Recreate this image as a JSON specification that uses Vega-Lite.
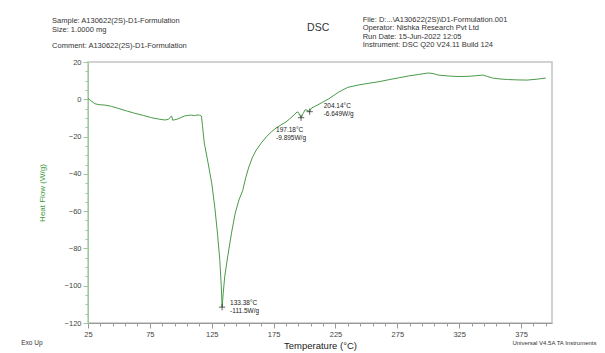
{
  "$schema": "https://vega.github.io/schema/vega-lite/v6.json",
  "autosize": {"type": "none"},
  "padding": {"left": 88, "top": 62, "right": 53, "bottom": 30},
  "width": 464,
  "height": 261,
  "background": "white",
  "config": {
    "font": "Liberation Sans",
    "view": {"stroke": "#c4c4c4", "strokeWidth": 1.5}
  },
  "layer": [
    {
      "data": {"values": [
        {"T": 25, "v": 0.5}, {"T": 27, "v": -0.6}, {"T": 30.6, "v": -2.4}, {"T": 34, "v": -2.9},
        {"T": 38.7, "v": -3.1}, {"T": 44, "v": -3.8}, {"T": 49, "v": -4.8}, {"T": 56, "v": -6.2},
        {"T": 62.8, "v": -7.5}, {"T": 70, "v": -8.7}, {"T": 76.5, "v": -9.9}, {"T": 82, "v": -10.6},
        {"T": 87, "v": -11.1}, {"T": 90, "v": -10.8}, {"T": 91.5, "v": -9.6}, {"T": 92.6, "v": -9.0},
        {"T": 93.4, "v": -11.2}, {"T": 95, "v": -11.0}, {"T": 97.4, "v": -10.6}, {"T": 100, "v": -9.8},
        {"T": 103, "v": -9.0}, {"T": 106, "v": -8.6}, {"T": 108.7, "v": -8.5}, {"T": 111, "v": -8.8},
        {"T": 113, "v": -8.4}, {"T": 115, "v": -8.5}, {"T": 116.7, "v": -9.0}, {"T": 117.5, "v": -14},
        {"T": 119, "v": -23.5}, {"T": 122, "v": -34}, {"T": 125, "v": -45}, {"T": 127.5, "v": -58},
        {"T": 129.6, "v": -71.7}, {"T": 131.5, "v": -86}, {"T": 132.7, "v": -100}, {"T": 133.38, "v": -111.5},
        {"T": 134.3, "v": -104}, {"T": 135.5, "v": -95}, {"T": 138, "v": -84}, {"T": 141, "v": -71.7},
        {"T": 144, "v": -61}, {"T": 147, "v": -54}, {"T": 150, "v": -49}, {"T": 152.5, "v": -42},
        {"T": 155, "v": -36.3}, {"T": 158, "v": -31}, {"T": 161, "v": -27.2}, {"T": 165, "v": -23.5},
        {"T": 169, "v": -20.2}, {"T": 173, "v": -17.6}, {"T": 177, "v": -15.4}, {"T": 181, "v": -13.7},
        {"T": 185, "v": -12.2}, {"T": 188, "v": -10.5}, {"T": 191.5, "v": -8.4}, {"T": 194, "v": -6.8},
        {"T": 195, "v": -7.0}, {"T": 197.18, "v": -9.895}, {"T": 199, "v": -7.5}, {"T": 200.5, "v": -5.6},
        {"T": 202, "v": -5.8}, {"T": 204.14, "v": -6.649}, {"T": 205.5, "v": -4.8}, {"T": 209, "v": -3.6},
        {"T": 214, "v": -1.8}, {"T": 219.7, "v": 0.3}, {"T": 227.7, "v": 3.9}, {"T": 235, "v": 6.4},
        {"T": 243.8, "v": 7.7}, {"T": 252, "v": 8.6}, {"T": 260, "v": 9.4}, {"T": 268, "v": 10.5},
        {"T": 276, "v": 11.5}, {"T": 284, "v": 12.5}, {"T": 292, "v": 13.3}, {"T": 300, "v": 14.1},
        {"T": 304, "v": 13.8}, {"T": 308, "v": 13.0}, {"T": 316, "v": 12.5}, {"T": 324, "v": 12.2},
        {"T": 332, "v": 12.3}, {"T": 338, "v": 12.6}, {"T": 344, "v": 13.0}, {"T": 348, "v": 12.2},
        {"T": 352, "v": 11.4}, {"T": 358, "v": 10.9}, {"T": 364, "v": 10.6}, {"T": 372, "v": 10.4},
        {"T": 380, "v": 10.3}, {"T": 388, "v": 10.8}, {"T": 395, "v": 11.4}
      ]},
      "mark": {"type": "line", "color": "#4a9a4a", "strokeWidth": 1},
      "encoding": {
        "x": {
          "field": "T", "type": "quantitative",
          "scale": {"domain": [25, 400], "nice": false, "zero": false},
          "axis": {
            "title": "Temperature (°C)",
            "titleFontSize": 9.5, "titleFontWeight": "normal", "titleColor": "#222", "titlePadding": 3,
            "values": [25, 35, 45, 55, 65, 75, 85, 95, 105, 115, 125, 135, 145, 155, 165, 175, 185, 195, 205, 215, 225, 235, 245, 255, 265, 275, 285, 295, 305, 315, 325, 335, 345, 355, 365, 375, 385, 395],
            "tickCount": 200,
            "format": "d",
            "labelExpr": "(datum.value - 25) % 50 === 0 ? datum.label : ''",
            "labelOverlap": false,
            "labelFontSize": 7.5, "labelColor": "#444", "labelPadding": 2,
            "tickSize": {"condition": {"test": "(datum.value - 25) % 50 === 0", "value": 5}, "value": 3},
            "tickColor": "#999", "domainColor": "#999", "grid": false, "labelFlush": false
          }
        },
        "y": {
          "field": "v", "type": "quantitative",
          "scale": {"domain": [-120, 20], "nice": false, "zero": false},
          "axis": {
            "title": "Heat Flow (W/g)",
            "titleFontSize": 8, "titleFontWeight": "normal", "titleColor": "#3a9a3a", "titlePadding": 18,
            "values": [-120, -115, -110, -105, -100, -95, -90, -85, -80, -75, -70, -65, -60, -55, -50, -45, -40, -35, -30, -25, -20, -15, -10, -5, 0, 5, 10, 15, 20],
            "tickCount": 200,
            "format": "d",
            "labelExpr": "datum.value % 20 === 0 ? datum.label : ''",
            "labelOverlap": false,
            "labelFontSize": 7.5, "labelColor": "#444", "labelPadding": 2,
            "tickSize": {"condition": {"test": "datum.value % 20 === 0", "value": 5}, "value": 3},
            "tickColor": "#9c9", "domainColor": "#9c9", "grid": false
          }
        }
      }
    },
    {
      "data": {"values": [
        {"T": 133.38, "v": -111.5, "lab": "133.38°C\n-111.5W/g", "k": "a"},
        {"T": 197.18, "v": -9.895, "lab": "197.18°C\n-9.895W/g", "k": "b"},
        {"T": 204.14, "v": -6.649, "lab": "204.14°C\n-6.649W/g", "k": "c"}
      ]},
      "layer": [
        {
          "mark": {"type": "point", "shape": "M-1,0L1,0M0,-1L0,1", "size": 40, "color": "#222", "strokeWidth": 1, "filled": false},
          "encoding": {"x": {"field": "T", "type": "quantitative"}, "y": {"field": "v", "type": "quantitative"}}
        },
        {
          "transform": [{"filter": "datum.k === 'a'"}],
          "mark": {"type": "text", "align": "left", "baseline": "middle", "dx": 8, "dy": -4, "fontSize": 6.5, "color": "#222", "lineBreak": "\n", "lineHeight": 8},
          "encoding": {"x": {"field": "T", "type": "quantitative"}, "y": {"field": "v", "type": "quantitative"}, "text": {"field": "lab"}}
        },
        {
          "transform": [{"filter": "datum.k === 'b'"}],
          "mark": {"type": "text", "align": "left", "baseline": "top", "dx": -25, "dy": 9, "fontSize": 6.5, "color": "#222", "lineBreak": "\n", "lineHeight": 8},
          "encoding": {"x": {"field": "T", "type": "quantitative"}, "y": {"field": "v", "type": "quantitative"}, "text": {"field": "lab"}}
        },
        {
          "transform": [{"filter": "datum.k === 'c'"}],
          "mark": {"type": "text", "align": "left", "baseline": "middle", "dx": 14, "dy": -6, "fontSize": 6.5, "color": "#222", "lineBreak": "\n", "lineHeight": 8},
          "encoding": {"x": {"field": "T", "type": "quantitative"}, "y": {"field": "v", "type": "quantitative"}, "text": {"field": "lab"}}
        }
      ]
    },
    {
      "data": {"values": [{"t": "Sample: A130622(2S)-D1-Formulation\nSize:  1.0000 mg"}]},
      "mark": {"type": "text", "align": "left", "baseline": "middle", "fontSize": 7.5, "color": "#333", "lineBreak": "\n", "lineHeight": 9},
      "encoding": {"x": {"datum": -4}, "y": {"datum": 41.8}, "text": {"field": "t"}}
    },
    {
      "data": {"values": [{"t": "Comment: A130622(2S)-D1-Formulation"}]},
      "mark": {"type": "text", "align": "left", "baseline": "middle", "fontSize": 7.5, "color": "#333"},
      "encoding": {"x": {"datum": -4}, "y": {"datum": 28.6}, "text": {"field": "t"}}
    },
    {
      "data": {"values": [{"t": "DSC"}]},
      "mark": {"type": "text", "align": "center", "baseline": "middle", "fontSize": 10.5, "color": "#333"},
      "encoding": {"x": {"datum": 211}, "y": {"datum": 38.2}, "text": {"field": "t"}}
    },
    {
      "data": {"values": [{"t": "File: D:...\\A130622(2S)\\D1-Formulation.001\nOperator: Nishka Research Pvt Ltd\nRun Date: 15-Jun-2022 12:05\nInstrument: DSC Q20 V24.11 Build 124"}]},
      "mark": {"type": "text", "align": "left", "baseline": "middle", "fontSize": 7.5, "color": "#333", "lineBreak": "\n", "lineHeight": 8.4},
      "encoding": {"x": {"datum": 247}, "y": {"datum": 42.6}, "text": {"field": "t"}}
    },
    {
      "data": {"values": [{"t": "Exo Up"}]},
      "mark": {"type": "text", "align": "left", "baseline": "middle", "fontSize": 6.5, "color": "#333"},
      "encoding": {"x": {"datum": -29}, "y": {"datum": -130.8}, "text": {"field": "t"}}
    },
    {
      "data": {"values": [{"t": "Universal V4.5A TA Instruments"}]},
      "mark": {"type": "text", "align": "right", "baseline": "middle", "fontSize": 6, "color": "#333"},
      "encoding": {"x": {"datum": 436}, "y": {"datum": -130.8}, "text": {"field": "t"}}
    }
  ]
}
